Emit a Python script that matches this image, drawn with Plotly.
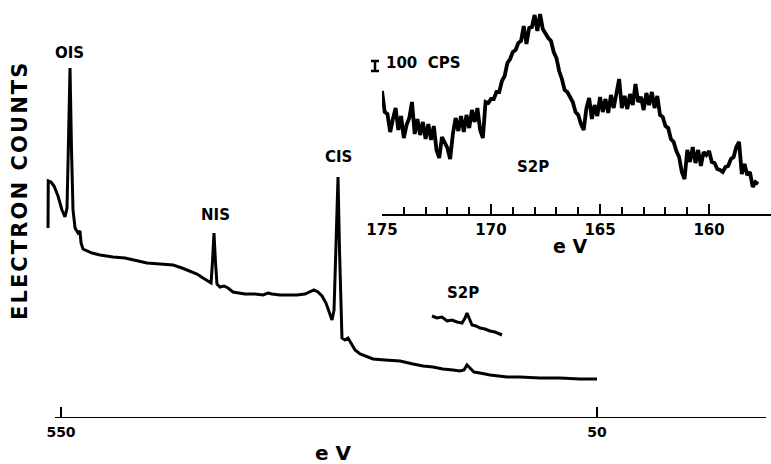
import numpy as np
import plotly.graph_objects as go

# ---- Survey spectrum: binding energy (eV) vs electron counts (arb. units) ----
survey_ev = [562.1, 561.9, 559.3, 556.5, 552.8, 549.1, 546.3, 544.4, 543.0, 541.6,
             540.2, 538.8, 536.9, 534.1, 532.3, 531.3, 529.5, 525.7, 521.1, 513.6,
             501.5, 490.3, 481.0, 469.8, 457.6, 445.5, 437.1, 429.6, 423.1, 417.5,
             412.8, 410.0, 408.6, 407.3, 405.9, 404.5, 401.7, 397.9, 394.2, 389.6,
             378.4, 369.0, 361.6, 356.9, 353.2, 345.7, 336.4, 329.9, 322.4, 317.7,
             314.0, 310.3, 306.5, 302.8, 299.1, 297.2, 295.3, 293.5, 291.6, 290.2,
             288.8, 287.9, 285.1, 282.3, 279.5, 275.7, 271.0, 264.5, 258.9, 247.8,
             233.8, 221.6, 212.3, 203.0, 193.7, 184.3, 177.8, 174.1, 171.3, 168.5,
             164.8, 159.1, 149.8, 133.9, 121.8, 103.2, 84.5, 65.9, 50.0]
survey_counts = [190, 237, 236, 232, 222, 208, 201, 210, 278, 350,
                 268, 208, 190, 185, 187, 175, 169, 167, 165, 163,
                 161, 160, 158, 155, 154, 153, 150, 147, 144, 140,
                 137, 135, 158, 185, 156, 134, 131, 132, 130, 126,
                 124, 124, 123, 125, 124, 123, 123, 123, 124, 126,
                 128, 126, 122, 115, 105, 98, 108, 168, 241, 168,
                 98, 80, 78, 80, 75, 68, 64, 61, 59, 58,
                 57, 54, 52, 51, 49, 48, 47, 48, 53, 50,
                 46, 45, 43, 41, 41, 40, 40, 39, 39]

# Expanded S 2p window of the survey (same energy scale)
s2p_zoom_ev = [203.9, 199.3, 194.6, 189.9, 185.3, 180.6, 175.9, 173.1, 171.3,
               169.4, 166.6, 162.9, 159.1, 154.5, 149.8, 145.1, 141.4, 138.6]
s2p_zoom_counts = [102, 100, 101, 97, 98, 96, 95, 100, 105,
                   100, 93, 92, 90, 89, 87, 86, 84, 83]

# ---- High-resolution S 2p scan (counts per second), 175 -> 157.75 eV ----
s2p_cps = [3230, 3020, 3000, 2820, 2950, 3060, 2840, 2980, 2760, 2890,
           2960, 3120, 2800, 2950, 2790, 2920, 2750, 2900, 2740, 2880,
           2640, 2560, 2770, 2720, 2660, 2550, 2800, 2960, 2830, 2980,
           2820, 2990, 2860, 3040, 2920, 3060, 2840, 2760, 3120, 3110,
           3150, 3150, 3220, 3220, 3330, 3380, 3510, 3550, 3620, 3640,
           3710, 3730, 3880, 3700, 3860, 3870, 3990, 3830, 4000, 3850,
           3800, 3760, 3730, 3620, 3560, 3430, 3350, 3240, 3220, 3160,
           3120, 3020, 2990, 2900, 2840, 3060, 3160, 2950, 3090, 2980,
           3170, 3020, 3150, 3010, 3190, 3060, 3210, 3350, 3060, 3180,
           3050, 3200, 3090, 3300, 3120, 3170, 3040, 3210, 3090, 3220,
           3060, 3180, 2990, 2970, 2880, 2860, 2750, 2720, 2630, 2570,
           2420, 2350, 2640, 2520, 2670, 2510, 2640, 2480, 2620, 2590,
           2630, 2520, 2510, 2450, 2440, 2420, 2470, 2480, 2550, 2570,
           2670, 2720, 2400, 2500, 2390, 2420, 2270, 2320, 2300]
s2p_ev = np.linspace(175.0, 157.75, len(s2p_cps))

# Tick values
survey_ticks = [550, 50]
detail_major = [175, 170, 165, 160]
detail_minor = [174, 173, 172, 171, 169, 168, 167, 166, 164, 163, 162, 161]

W, H = 771, 464
FONT = "DejaVu Sans"


def px_x(p):
    return p / W


def px_y(p):
    return (H - p) / H


main_xdom = [px_x(44), px_x(766)]
main_ydom = [px_y(418), px_y(40)]
main_xrange = [565.86, -107.65]
main_yrange = [0, 378]

ins_xdom = [px_x(382), 1.0]
ins_ydom = [px_y(214), px_y(10)]
ins_xrange = [175.0, 157.16]
ins_yrange = [2000, 4040]

fig = go.Figure()
fig.add_trace(go.Scatter(x=survey_ev, y=survey_counts, mode="lines",
                         line=dict(color="black", width=3),
                         xaxis="x", yaxis="y", hoverinfo="skip"))
fig.add_trace(go.Scatter(x=s2p_zoom_ev, y=s2p_zoom_counts, mode="lines",
                         line=dict(color="black", width=3),
                         xaxis="x", yaxis="y", hoverinfo="skip"))
fig.add_trace(go.Scatter(x=s2p_ev, y=s2p_cps, mode="lines",
                         line=dict(color="black", width=3.8),
                         xaxis="x2", yaxis="y2", hoverinfo="skip"))

bold = dict(family=FONT, color="black", weight="bold")

fig.update_layout(
    width=W, height=H,
    margin=dict(l=0, r=0, t=0, b=0, autoexpand=False),
    paper_bgcolor="white", plot_bgcolor="rgba(0,0,0,0)",
    showlegend=False,
    xaxis=dict(domain=main_xdom, range=main_xrange, showgrid=False,
               zeroline=False, showline=False, ticks="inside", ticklen=11,
               tickwidth=2, tickcolor="black", tickvals=survey_ticks,
               tickfont=dict(size=14, **bold), ticklabelstandoff=4,
               anchor="y", automargin=False),
    yaxis=dict(domain=main_ydom, range=main_yrange, visible=False,
               anchor="x"),
    xaxis2=dict(domain=ins_xdom, range=ins_xrange, showgrid=False,
                zeroline=False, showline=True, linewidth=2, linecolor="black",
                ticks="inside", ticklen=10, tickwidth=2, tickcolor="black",
                tickvals=detail_major, tickfont=dict(size=15, **bold),
                ticklabelstandoff=1,
                minor=dict(tickvals=detail_minor, ticks="inside", ticklen=7,
                           tickwidth=2, tickcolor="black"),
                anchor="y2", automargin=False),
    yaxis2=dict(domain=ins_ydom, range=ins_yrange, visible=False,
                anchor="x2"),
)

# Survey energy axis line
fig.add_shape(type="line", xref="x", yref="y", x0=555.6, x1=main_xrange[1],
              y0=0, y1=0, line=dict(color="black", width=2))


# 100 CPS scale bar for the detail scan
def ins_paper_y(v):
    return ins_ydom[0] + (v - ins_yrange[0]) / (ins_yrange[1] - ins_yrange[0]) * (ins_ydom[1] - ins_ydom[0])


bar_lo, bar_hi = 3430, 3530
bx = px_x(375)
cap = 4 / W
for y0, y1, x0, x1 in [(ins_paper_y(bar_lo), ins_paper_y(bar_hi), bx, bx),
                       (ins_paper_y(bar_lo), ins_paper_y(bar_lo), bx - cap, bx + cap),
                       (ins_paper_y(bar_hi), ins_paper_y(bar_hi), bx - cap, bx + cap)]:
    fig.add_shape(type="line", xref="paper", yref="paper", x0=x0, x1=x1,
                  y0=y0, y1=y1, line=dict(color="black", width=2.5))

# Peak labels
peak_labels = [("OIS", 542.5, 365), ("NIS", 406.3, 203), ("CIS", 291.6, 261),
               ("S2P", 175.0, 125)]
for txt, xv, yv in peak_labels:
    fig.add_annotation(x=xv, y=yv, xref="x", yref="y", text=txt,
                       xanchor="center", yanchor="middle",
                       showarrow=False, font=dict(size=15, **bold))

fig.add_annotation(x=168.07, y=2470, xref="x2", yref="y2", text="S2P",
                   xanchor="center", yanchor="middle",
                   showarrow=False, font=dict(size=15, **bold))
fig.add_annotation(x=px_x(384), y=px_y(63), xref="paper", yref="paper",
                   xanchor="left", yanchor="middle", text="100  CPS",
                   showarrow=False, font=dict(size=15, **bold))
fig.add_annotation(x=px_x(333), y=px_y(453), xref="paper", yref="paper",
                   xanchor="center", yanchor="middle",
                   text="e V", showarrow=False, font=dict(size=20, **bold))
fig.add_annotation(x=px_x(570), y=px_y(246), xref="paper", yref="paper",
                   xanchor="center", yanchor="middle",
                   text="e V", showarrow=False, font=dict(size=19, **bold))
hs = "\u200a"
fig.add_annotation(x=px_x(20), y=px_y(192), xref="paper", yref="paper",
                   xanchor="center", yanchor="middle",
                   text=hs.join("ELECTRON COUNTS"), textangle=-90,
                   showarrow=False, font=dict(size=21, **bold))

fig.write_html("out.html")
